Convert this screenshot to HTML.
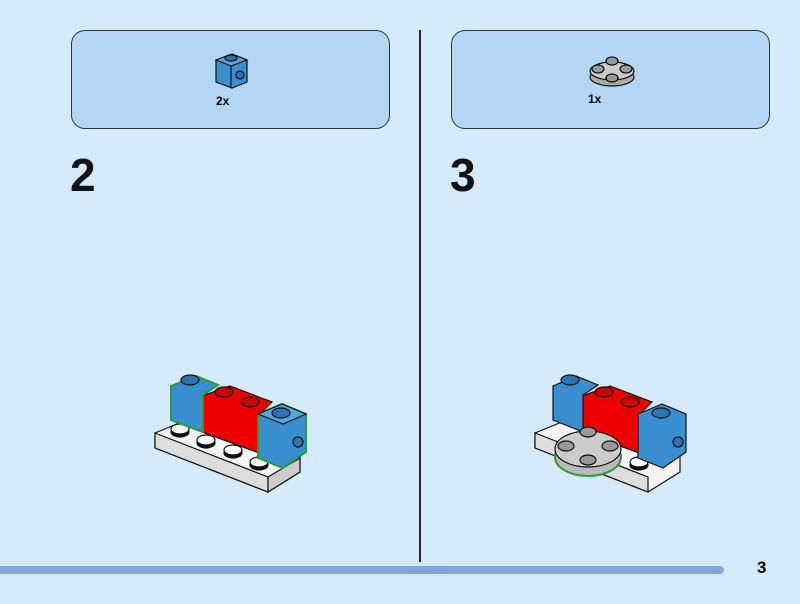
<!DOCTYPE html>
<html><head><style>
html,body{margin:0;padding:0}
body{width:800px;height:604px;background:#d5ebfb;position:relative;overflow:hidden;font-family:"Liberation Sans",sans-serif}
.panel{position:absolute;top:30px;width:317px;height:97px;background:#b2d6f3;border:1.5px solid #333;border-radius:14px}
.num{position:absolute;top:148px;font-size:46px;font-weight:bold;color:#111}
</style></head><body>
<div class="panel" style="left:71px"></div>
<div class="panel" style="left:451px"></div>
<div style="position:absolute;left:419px;top:30px;width:2px;height:532px;background:#222"></div>
<div style="position:absolute;left:0;top:566px;width:724px;height:8px;background:#82a6d8;border-radius:0 4px 4px 0"></div>
<div style="position:absolute;left:757px;top:558px;font-size:17px;font-weight:bold">3</div>
<div class="num" style="left:70px">2</div>
<div class="num" style="left:450px">3</div>
<div style="position:absolute;left:216px;top:94px;font-size:12px;font-weight:bold">2x</div>
<div style="position:absolute;left:588px;top:92px;font-size:12px;font-weight:bold">1x</div>
<svg width="800" height="604" style="position:absolute;left:0;top:0" stroke="#111" stroke-width="1.2">
<g>
<polygon points="216,60 232,54 247,60 247,82 232,88 216,82" fill="#3a8fd0"/>
<polygon points="216,60 232,54 247,60 231,66" fill="#5aa4dc"/>
<line x1="231" y1="66" x2="231" y2="88"/>
<ellipse cx="231" cy="58" rx="6" ry="3" fill="#2d74b0"/>
<circle cx="240" cy="75" r="4" fill="#2d74b0"/>
</g>
<g>
<ellipse cx="612" cy="77" rx="22" ry="9" fill="#aaa"/>
<ellipse cx="612" cy="71" rx="22" ry="9" fill="#ccc"/>
<ellipse cx="612" cy="61" rx="6" ry="4" fill="#999"/>
<ellipse cx="598" cy="69" rx="6" ry="4" fill="#999"/>
<ellipse cx="626" cy="69" rx="6" ry="4" fill="#999"/>
<ellipse cx="612" cy="78" rx="6" ry="4" fill="#999"/>
</g>
<g>
<polygon points="155,433 182,422 300,457 300,472 268,492 155,448" fill="#f4f4f4"/>
<polygon points="155,433 268,477 268,492 155,448" fill="#ddd"/>
<polygon points="268,477 300,458 300,472 268,492" fill="#ccc"/>
<ellipse cx="180" cy="432" rx="9" ry="5" fill="#111"/><ellipse cx="180" cy="429" rx="9" ry="5" fill="#fff"/>
<ellipse cx="206" cy="443" rx="9" ry="5" fill="#111"/><ellipse cx="206" cy="440" rx="9" ry="5" fill="#fff"/>
<ellipse cx="233" cy="453" rx="9" ry="5" fill="#111"/><ellipse cx="233" cy="450" rx="9" ry="5" fill="#fff"/>
<ellipse cx="259" cy="465" rx="9" ry="5" fill="#111"/><ellipse cx="259" cy="462" rx="9" ry="5" fill="#fff"/>
<polygon points="202,396 230,386 272,402 262,412 262,454 202,432" fill="#e00"/>
<polygon points="171,386 196,376 218,385 203,395 203,432 171,420" fill="#3a8fd0" stroke="#2a9a3a" stroke-width="2"/>
<polygon points="258,414 282,404 306,414 306,452 283,468 258,458" fill="#3a8fd0" stroke="#2a9a3a" stroke-width="2"/>
<polygon points="258,414 282,404 306,414 283,424" fill="#5aa4dc"/>
<ellipse cx="190" cy="380" rx="9" ry="5" fill="#2d74b0"/>
<ellipse cx="224" cy="392" rx="9" ry="5" fill="#c00"/>
<ellipse cx="250" cy="402" rx="9" ry="5" fill="#c00"/>
<ellipse cx="281" cy="413" rx="9" ry="5" fill="#2d74b0"/>
<circle cx="298" cy="442" r="5" fill="#2d74b0"/>
</g>
<g>
<polygon points="535,433 562,422 680,457 680,472 648,492 535,448" fill="#f4f4f4"/>
<polygon points="535,433 648,477 648,492 535,448" fill="#ddd"/>
<ellipse cx="639" cy="465" rx="9" ry="5" fill="#111"/><ellipse cx="639" cy="462" rx="9" ry="5" fill="#fff"/>
<polygon points="582,396 610,386 652,402 642,412 642,454 582,432" fill="#e00"/>
<polygon points="553,386 576,376 598,385 583,395 583,432 553,420" fill="#3a8fd0"/>
<polygon points="638,414 662,404 686,414 686,452 663,468 638,458" fill="#3a8fd0"/>
<ellipse cx="570" cy="380" rx="9" ry="5" fill="#2d74b0"/>
<ellipse cx="604" cy="392" rx="9" ry="5" fill="#c00"/>
<ellipse cx="630" cy="402" rx="9" ry="5" fill="#c00"/>
<ellipse cx="661" cy="413" rx="9" ry="5" fill="#2d74b0"/>
<circle cx="678" cy="442" r="5" fill="#2d74b0"/>
<ellipse cx="588" cy="457" rx="33" ry="19" fill="#bbb" stroke="#2a9a3a" stroke-width="2"/>
<ellipse cx="588" cy="449" rx="33" ry="18" fill="#ccc"/>
<ellipse cx="588" cy="432" rx="8" ry="5" fill="#999"/>
<ellipse cx="566" cy="446" rx="8" ry="5" fill="#999"/>
<ellipse cx="610" cy="446" rx="8" ry="5" fill="#999"/>
<ellipse cx="588" cy="460" rx="8" ry="5" fill="#999"/>
</g>
</svg>
</body></html>
